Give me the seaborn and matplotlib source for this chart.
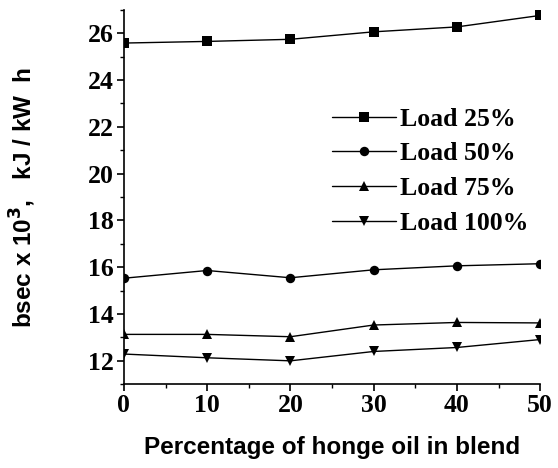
import pandas as pd
import numpy as np
import matplotlib
matplotlib.use("Agg")
import matplotlib.pyplot as plt
import seaborn as sns
from matplotlib.ticker import MultipleLocator

# Data
blend = [0, 10, 20, 30, 40, 50]
load_25 = [25.58, 25.65, 25.74, 26.06, 26.27, 26.76]
load_50 = [15.53, 15.86, 15.55, 15.89, 16.06, 16.15]
load_75 = [13.13, 13.13, 13.03, 13.53, 13.64, 13.62]
load_100 = [12.29, 12.13, 12.00, 12.40, 12.57, 12.91]
labels = ["Load 25%", "Load 50%", "Load 75%", "Load 100%"]

data = pd.DataFrame({
    "blend": blend * 4,
    "bsec": load_25 + load_50 + load_75 + load_100,
    "load": [l for l in labels for _ in blend],
})

sns.set_style("ticks")
plt.rcParams["text.color"] = "black"
plt.rcParams["axes.labelcolor"] = "black"

fig = plt.figure(figsize=(5.58, 4.68), dpi=100)
ax = fig.add_axes([0.222, 0.179, 0.746, 0.8])

sns.lineplot(
    data=data,
    x="blend",
    y="bsec",
    hue="load",
    style="load",
    palette=["black"] * 4,
    markers={"Load 25%": "s", "Load 50%": "o", "Load 75%": "^", "Load 100%": "v"},
    dashes=False,
    markersize=6.8,
    linewidth=1,
    markeredgewidth=0,
    ax=ax,
)

ax.set_xlim(0, 50)
ax.set_ylim(11, 27)
ax.xaxis.set_major_locator(MultipleLocator(10))
ax.xaxis.set_minor_locator(MultipleLocator(5))
ax.yaxis.set_major_locator(MultipleLocator(2))
ax.yaxis.set_minor_locator(MultipleLocator(1))
ax.set_yticks([12, 14, 16, 18, 20, 22, 24, 26])

for s in ["top", "right"]:
    ax.spines[s].set_visible(False)
for s in ["left", "bottom"]:
    ax.spines[s].set_linewidth(1.2)
    ax.spines[s].set_color("black")

ax.tick_params(which="major", direction="out", length=5, width=1.2, colors="black", pad=2)
ax.tick_params(which="minor", direction="out", length=3, width=1, colors="black")

for lab in ax.get_xticklabels() + ax.get_yticklabels():
    lab.set_family("Liberation Serif")
    lab.set_fontweight("bold")
    lab.set_fontsize(18.5)

ax.set_xlabel("Percentage of honge oil in blend", family="Liberation Sans",
              fontweight="bold", fontsize=17.5, labelpad=14)
ax.set_ylabel(r"bsec x 10$^\mathbf{3}$,   kJ / kW  h", family="Liberation Sans",
              fontweight="bold", fontsize=17.5, labelpad=36)

leg = ax.legend(
    loc="upper right",
    bbox_to_anchor=(1.028, 0.80),
    frameon=False,
    handlelength=2.5,
    handletextpad=0.15,
    labelspacing=0.45,
    prop={"family": "Liberation Serif", "weight": "bold", "size": 18.5},
)

fig.savefig("out.png", dpi=100)
